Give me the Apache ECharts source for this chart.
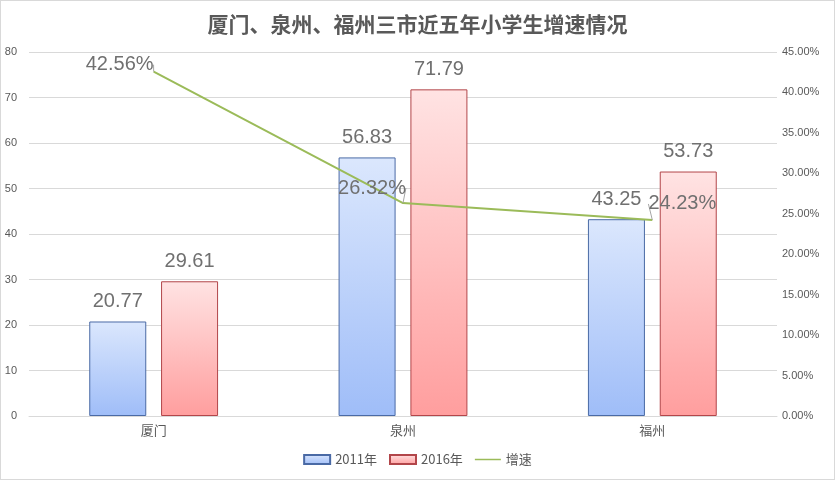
<!DOCTYPE html>
<html><head><meta charset="utf-8">
<script src="https://cdn.jsdelivr.net/npm/echarts@6/dist/echarts.min.js"></script>
<style>html,body{margin:0;padding:0;background:#fff}#c{width:833px;height:478px;border:1px solid #d9d9d9}</style>
</head><body><div id="c"></div>
<script>
const categories = ['厦门', '泉州', '福州'];
const values2011 = [20.77, 56.83, 43.25];
const values2016 = [29.61, 71.79, 53.73];
const growth = [42.56, 26.32, 24.23];
const leftTicks = {min: 0, max: 80, interval: 10};
const rightTicks = {min: 0, max: 45, interval: 5};
const growthLabelShift = [[-34, 8], [-31, 0], [30, -1]];

const txt = '#595959';
const lbl = '#707070';
const chart = echarts.init(document.getElementById('c'));
chart.setOption({
  animation: false,
  title: {text: '厦门、泉州、福州三市近五年小学生增速情况', left: 'center', top: 8,
    textStyle: {fontFamily: 'Noto Sans CJK SC', fontSize: 21, fontWeight: 'bold', color: txt}},
  legend: {bottom: 8, itemWidth: 26, itemHeight: 9, itemGap: 12,
    textStyle: {color: txt, fontSize: 13, fontFamily: 'Noto Sans CJK SC'},
    data: [{name: '2011年', icon: 'rect'}, {name: '2016年', icon: 'rect'},
      {name: '增速', icon: 'path://M0,4L26,4L26,5.5L0,5.5Z', itemStyle: {color: '#9bbb59'}}]},
  grid: {left: 28, right: 57, top: 51, bottom: 63},
  xAxis: {type: 'category', data: categories,
    axisLine: {lineStyle: {color: '#d9d9d9'}}, axisTick: {show: false},
    axisLabel: {color: txt, fontSize: 13, fontFamily: 'Noto Sans CJK SC'}},
  yAxis: [
    {type: 'value', min: leftTicks.min, max: leftTicks.max, interval: leftTicks.interval,
      axisLabel: {color: txt, fontSize: 11, margin: 12},
      splitLine: {lineStyle: {color: '#d9d9d9'}}, axisLine: {show: false}},
    {type: 'value', min: rightTicks.min, max: rightTicks.max, interval: rightTicks.interval,
      axisLabel: {color: txt, fontSize: 11, margin: 5, formatter: v => v.toFixed(2) + '%'},
      splitLine: {show: false}, axisLine: {show: false}}
  ],
  series: [
    {name: '2011年', type: 'bar', data: values2011, barWidth: 57, barGap: '26%',
      itemStyle: {borderColor: '#4a6aa5', borderWidth: 1,
        color: new echarts.graphic.LinearGradient(0, 0, 0, 1, [{offset: 0, color: '#dbe7fd'}, {offset: 1, color: '#9fbdf8'}])},
      label: {show: true, position: 'top', distance: 10, color: lbl, fontSize: 20}},
    {name: '2016年', type: 'bar', data: values2016, barWidth: 57,
      itemStyle: {borderColor: '#b2464a', borderWidth: 1,
        color: new echarts.graphic.LinearGradient(0, 0, 0, 1, [{offset: 0, color: '#ffe3e3'}, {offset: 1, color: '#ff9e9e'}])},
      label: {show: true, position: 'top', distance: 10, color: lbl, fontSize: 20}},
    {name: '增速', type: 'line', yAxisIndex: 1, data: growth, symbol: 'circle', symbolSize: 0.1, showSymbol: true,
      lineStyle: {color: '#9bbb59', width: 2}, itemStyle: {color: '#9bbb59'},
      label: {show: true, position: 'top', distance: 5, color: lbl, fontSize: 20, formatter: p => p.value.toFixed(2) + '%'},
      labelLine: {show: true, lineStyle: {color: '#a6a6a6', width: 1}},
      labelLayout: p => ({dx: growthLabelShift[p.dataIndex][0], dy: growthLabelShift[p.dataIndex][1]}),
      z: 5}
  ]
});
</script></body></html>
